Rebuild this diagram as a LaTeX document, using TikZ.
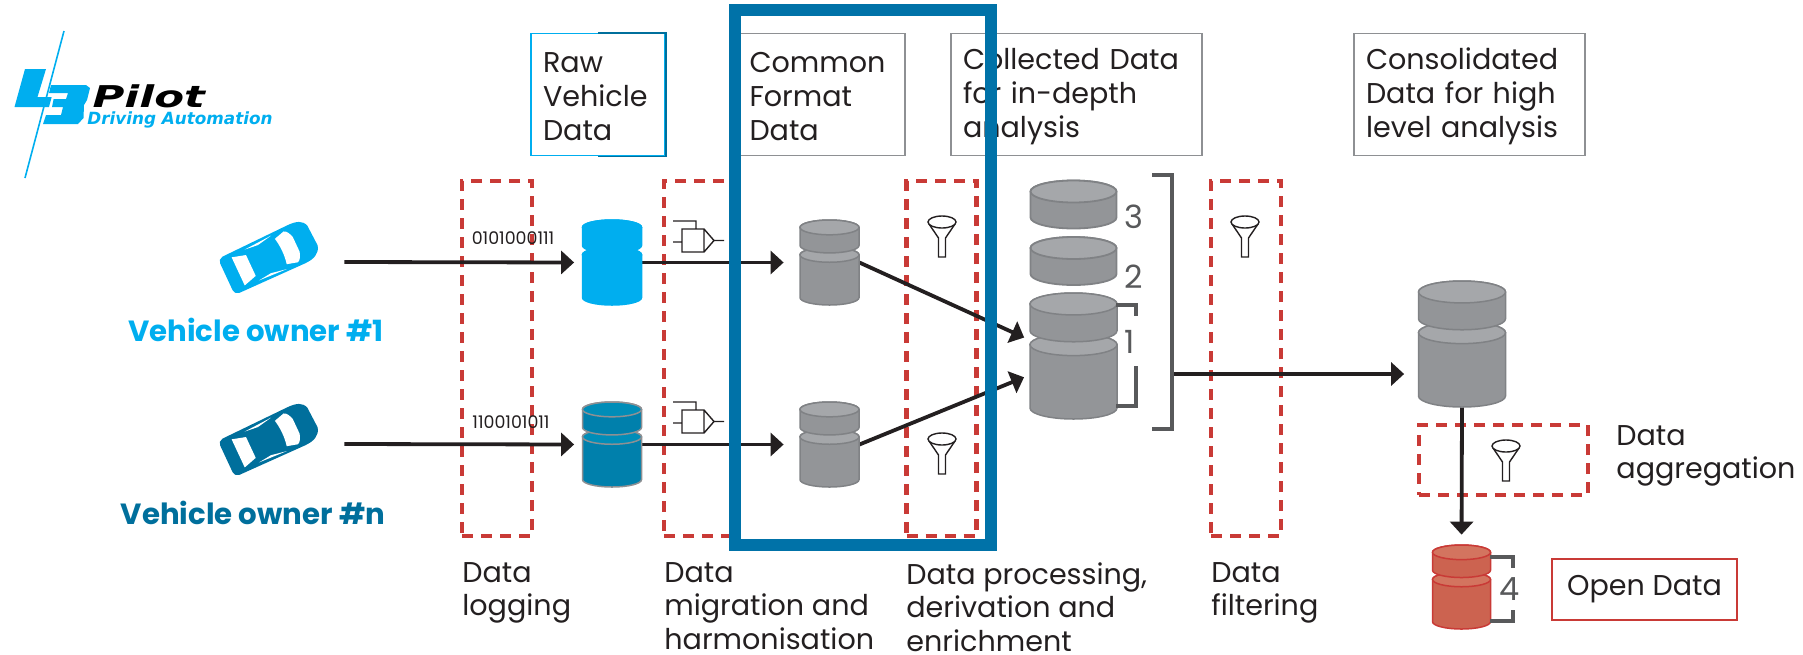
\documentclass[tikz,border=0pt]{standalone}
\usepackage{fontspec}
\setmainfont{Poppins}
\newfontfamily\logofont{DejaVu Sans}
\usetikzlibrary{arrows.meta,calc,positioning}
\definecolor{ownerone}{HTML}{00AEEF}
\definecolor{ownern}{HTML}{006F9C}
\definecolor{framecol}{HTML}{0072A8}
\definecolor{stepred}{HTML}{C93A36}
\definecolor{inkdark}{HTML}{231F20}
\definecolor{boxgrey}{HTML}{8E9093}
\definecolor{numgrey}{HTML}{58595B}
\definecolor{dbgrey}{HTML}{939598}
\definecolor{dbgreytop}{HTML}{A5A7AA}
\definecolor{dbedge}{HTML}{808285}
\definecolor{dbbluebody}{HTML}{0080AC}
\definecolor{dbbluetop}{HTML}{008DB8}
\definecolor{dbredbody}{HTML}{CC6350}
\definecolor{dbredtop}{HTML}{D3745F}
% two-tier store: node, width, height, body, top, edge
\newcommand{\drawstack}[6]{
  \begin{scope}[shift={(#1.center)},line width=0.75pt]
    \pgfmathsetmacro\hw{#2/2}
    \pgfmathsetmacro\hh{#3/2}
    \pgfmathsetmacro\ry{0.087*#3}
    \pgfmathsetmacro\ya{-\hh+0.41*#3}
    \pgfmathsetmacro\yb{-\hh+0.913*#3}
    \pgfmathsetmacro\yc{-\hh+0.087*#3}
    \pgfmathsetmacro\yd{-\hh+0.30*#3}
    \filldraw[fill=#4,draw=#6] (-\hw,\ya) -- (-\hw,\yb)
      arc[start angle=180,end angle=0,x radius=\hw,y radius=\ry] -- (\hw,\ya)
      arc[start angle=0,end angle=-180,x radius=\hw,y radius=\ry] -- cycle;
    \filldraw[fill=#5,draw=#6] (0,\ya) ellipse [x radius=\hw,y radius=\ry];
    \filldraw[fill=#4,draw=#6] (-\hw,\yc) -- (-\hw,\yd)
      arc[start angle=180,end angle=0,x radius=\hw,y radius=\ry] -- (\hw,\yc)
      arc[start angle=0,end angle=-180,x radius=\hw,y radius=\ry] -- cycle;
    \filldraw[fill=#5,draw=#6] (0,\yc) ellipse [x radius=\hw,y radius=\ry];
  \end{scope}
}
% single disc: node
\newcommand{\drawdisc}[1]{
  \begin{scope}[shift={(#1.center)},line width=0.9pt]
    \filldraw[fill=dbgrey,draw=dbedge] (-43,-13) -- (-43,13)
      arc[start angle=180,end angle=0,x radius=43,y radius=11] -- (43,-13)
      arc[start angle=0,end angle=-180,x radius=43,y radius=11] -- cycle;
    \filldraw[fill=dbgreytop,draw=dbedge] (0,-13) ellipse [x radius=43,y radius=11];
  \end{scope}
}
\tikzset{
  converter/.pic={
    \draw[line width=0.7pt,draw=inkdark] (0,0) rectangle (22,23) (22,0) -- (32,11.5) -- (22,23)
      (32,11.5) -- (42,11.5) (14,0) -- (14,-8) -- (-9,-8) (0,13) -- (-9,13);
  },
  funnel/.pic={
    \draw[line width=0.7pt,draw=inkdark,fill=white] (-13,2) -- (-3.5,16) -- (-3.5,35) -- (3.5,35) -- (3.5,16) -- (13,2);
    \draw[line width=0.7pt,draw=inkdark,fill=white] (0,0) ellipse [x radius=14,y radius=6];
  },
  car/.pic={
    \fill (-47,-15) .. controls (-47,-18) and (-45,-19) .. (-42,-20) -- (30,-21)
      .. controls (40,-21) and (46,-19) .. (48,-12) -- (49,10)
      .. controls (47,18) and (40,21) .. (30,21) -- (-42,20)
      .. controls (-45,19) and (-47,18) .. (-47,15) -- cycle;
    \fill[white] (-34,-15.5) -- (-20,-11.5) -- (-20,11.5) -- (-34,15.5) -- cycle;
    \fill[white] (13,-14) -- (24,-17) .. controls (27,-16) and (29,-12) .. (30,-8) -- (30,8)
      .. controls (29,12) and (27,16) .. (24,17) -- (13,14)
      .. controls (15,5) and (15,-5) .. (13,-14) -- cycle;
    \fill[white] (-19,-17) -- (11,-18.5) -- (-5,-15.5) -- cycle;
    \fill[white] (-19,17) -- (11,18.5) -- (-5,15.5) -- cycle;
  }
}
\begin{document}
\begin{tikzpicture}[x=0.5pt,y=-0.5pt,>={Triangle[length=6.5pt,width=11.5pt]},
                    font=\fontsize{14.3}{17}\selectfont,text=inkdark]
  \tikzstyle{labelbox} = [draw,line width=0.8pt,inner sep=0pt,inner xsep=6pt,align=left,anchor=center,minimum height=61pt,execute at begin node={\leavevmode\vadjust pre{\kern1.8pt}}]
  \tikzstyle{redbox} = [draw=stepred,line width=2.1pt,dash pattern=on 5.5pt off 4pt,inner sep=0pt]
  \tikzstyle{steplabel} = [inner sep=0pt,anchor=north west,align=left,font=\fontsize{14.3}{16.8}\selectfont]
  \tikzstyle{flow} = [->,line width=1.9pt,draw=inkdark]
  \tikzstyle{storesmall} = [inner sep=0pt,minimum width=29.5pt,minimum height=42.5pt]
  \tikzstyle{storebig} = [inner sep=0pt,minimum width=43.5pt,minimum height=63pt]
  \tikzstyle{ownerlabel} = [font=\fontsize{14.6}{16}\selectfont\bfseries]
  \tikzstyle{bits} = [font=\fontsize{8.7}{9}\selectfont]
  \tikzstyle{bracket} = [line width=1.6pt,draw=numgrey]
  \tikzstyle{digit} = [font=\fontsize{16}{18}\selectfont,text=numgrey,inner sep=0pt]
  \useasboundingbox (0,0) rectangle (1803,654);

  % logo
  \draw[ownerone,line width=0.8pt] (64,31) -- (25,178);
  \fill[ownerone] (25,69) -- (46,69) -- (37.5,97) -- (51.7,97) -- (49,107) -- (14.5,107) -- cycle;
  \fill[ownerone] (51,85) -- (86,85) -- (90,88) -- (87,100) -- (84,105) -- (83.5,118) -- (78,124)
    -- (43,124) -- (46,115) -- (61,115) -- (63,107) -- (52,107) -- (53.6,99) -- (66,99) -- (68,93) -- (49,93) -- cycle;
  \node (logoname) [inner sep=0pt,anchor=base west,xscale=1.45,font=\logofont\fontsize{15}{15}\selectfont\bfseries\itshape,text=black] at (92,107) {Pilot};
  \node (logotag) [inner sep=0pt,anchor=base west,font=\logofont\fontsize{8.4}{9}\selectfont\bfseries\itshape,text=ownerone] at (87,124) {Driving Automation};

  % data type boxes
  \node (rawbox) [labelbox,draw=ownerone,text width=55pt,minimum width=67pt] at (598,94.5) {Raw\\Vehicle\\Data};
  \draw[ownern,line width=0.8pt] (rawbox.north) -- (rawbox.north east) -- (rawbox.south east) -- (rawbox.south);
  \node (commonbox) [labelbox,draw=boxgrey,text width=71pt,minimum width=84.5pt] at (820.5,94.5) {Common\\Format\\Data};
  \node (collectedbox) [labelbox,draw=boxgrey,text width=113.5pt,minimum width=125.5pt] at (1076.5,94.5) {Collected Data\\for in-depth\\analysis};
  \node (consolbox) [labelbox,draw=boxgrey,text width=103.5pt,minimum width=115.5pt] at (1469.5,94.5) {Consolidated\\Data for high\\level analysis};

  % processing steps
  \node (logstep) [redbox,minimum width=35pt,minimum height=177.5pt] at (497,358.5) {};
  \node (migstep) [redbox,minimum width=35.5pt,minimum height=177.5pt] at (699.5,358.5) {};
  \node (procstep) [redbox,minimum width=35pt,minimum height=177.5pt] at (941.5,358.5) {};
  \node (filtstep) [redbox,minimum width=35pt,minimum height=177.5pt] at (1246,358.5) {};
  \node (aggstep) [redbox,minimum width=84.5pt,minimum height=35pt] at (1503.5,460) {};

  % owners
  \node (car1) [inner sep=0pt,minimum width=75pt,minimum height=50pt] at (269,262) {};
  \node (carn) [inner sep=0pt,minimum width=75pt,minimum height=50pt,below of=car1,node distance=91pt] {};
  \path pic[ownerone,fill=ownerone,rotate=25] at (269,257) {car};
  \path pic[ownern,fill=ownern,rotate=25] at (269,439) {car};
  \node (owner1) [ownerlabel,text=ownerone] at (256,330) {Vehicle owner \#1};
  \node (ownern) [ownerlabel,text=ownern] at (253,513) {Vehicle owner \#n};

  % stores
  \node (raw1) [storesmall] at (612,262.5) {};
  \node (rawn) [storesmall,below of=raw1,node distance=91pt] {};
  \node (common1) [storesmall] at (829.5,262.5) {};
  \node (commonn) [storesmall,below of=common1,node distance=91pt] {};
  \node (coll3) [inner sep=0pt,minimum width=43.5pt,minimum height=24.5pt] at (1073.5,204.5) {};
  \node (coll2) [inner sep=0pt,minimum width=43.5pt,minimum height=24.5pt,below of=coll3,node distance=28.25pt] {};
  \node (coll1) [storebig] at (1073.5,356) {};
  \node (consol) [storebig] at (1462,344) {};
  \node (open) [inner sep=0pt,minimum width=29pt,minimum height=42pt] at (1461.5,587) {};

  % flows
  \draw[flow,shorten >=4pt] (car1.east) -- (raw1.west);
  \draw[flow,shorten >=4pt] (carn.east) -- (rawn.west);
  \draw[flow,shorten >=8pt] (raw1.east) -- (common1.west);
  \draw[flow,shorten >=8pt] (rawn.east) -- (commonn.west);
  \draw[flow,shorten >=3pt] (common1.east) -- ([yshift=8pt]coll1.west);
  \draw[flow,shorten >=3pt] (commonn.east) -- ([yshift=-9.5pt]coll1.west);
  \coordinate (collout) at (1172,374);
  \draw[flow,shorten >=7pt] (collout) -- (collout -| consol.west);
  \draw[flow,shorten >=5pt] (consol.south) -- (open.north);

  \drawstack{raw1}{59}{85}{ownerone}{ownerone}{ownerone}
  \drawstack{rawn}{59}{85}{dbbluebody}{dbbluetop}{boxgrey}
  \drawstack{common1}{59}{85}{dbgrey}{dbgreytop}{dbedge}
  \drawstack{commonn}{59}{85}{dbgrey}{dbgreytop}{dbedge}
  \drawdisc{coll3}
  \drawdisc{coll2}
  \drawstack{coll1}{87}{126}{dbgrey}{dbgreytop}{dbedge}
  \drawstack{consol}{87}{126}{dbgrey}{dbgreytop}{dbedge}
  \drawstack{open}{58}{84}{dbredbody}{dbredtop}{stepred}

  % icons
  \path pic at (682,229) {converter};
  \path pic at (682,410) {converter};
  \path pic at (942,222) {funnel};
  \path pic at (942,439) {funnel};
  \path pic at (1245,222) {funnel};
  \path pic at (1506,446) {funnel};

  % brackets
  \draw[bracket] (1152,175) -- (1172,175) -- (1172,429) -- (1152,429);
  \draw[bracket] (1116,305) -- (1136,305) -- (1136,316);
  \draw[bracket] (1116,406) -- (1136,406) -- (1136,366);
  \draw[bracket] (1490,557) -- (1513,557) -- (1513,568);
  \draw[bracket] (1490,621) -- (1513,621) -- (1513,610);
  \node (num3) [digit] at (1134,217) {3};
  \node (num2) [digit] at (1134,277) {2};
  \node (num1) [digit] at (1130,342) {1};
  \node (num4) [digit] at (1510,589) {4};

  % texts
  \node (bits1) [bits] at (513,238) {0101000111};
  \node (bitsn) [bits] at (511,422) {1100101011};
  \node (loglabel) [steplabel] at (462,562) {Data\\logging};
  \node (miglabel) [steplabel] at (664,562) {Data\\migration and\\harmonisation};
  \node (proclabel) [steplabel] at (906,562) {Data processing,\\derivation and\\enrichment};
  \node (filtlabel) [steplabel] at (1211,562) {Data\\filtering};
  \node (agglabel) [steplabel,anchor=west] at (1616,456) {Data\\aggregation};
  \node (openbox) [draw=stepred,line width=0.8pt,minimum width=92.5pt,minimum height=30.5pt,inner sep=0pt] at (1644.5,589.5) {Open Data};

  % highlight frame
  \draw[framecol,line width=6.2pt] (735,10) rectangle (991,545);
\end{tikzpicture}
\end{document}
